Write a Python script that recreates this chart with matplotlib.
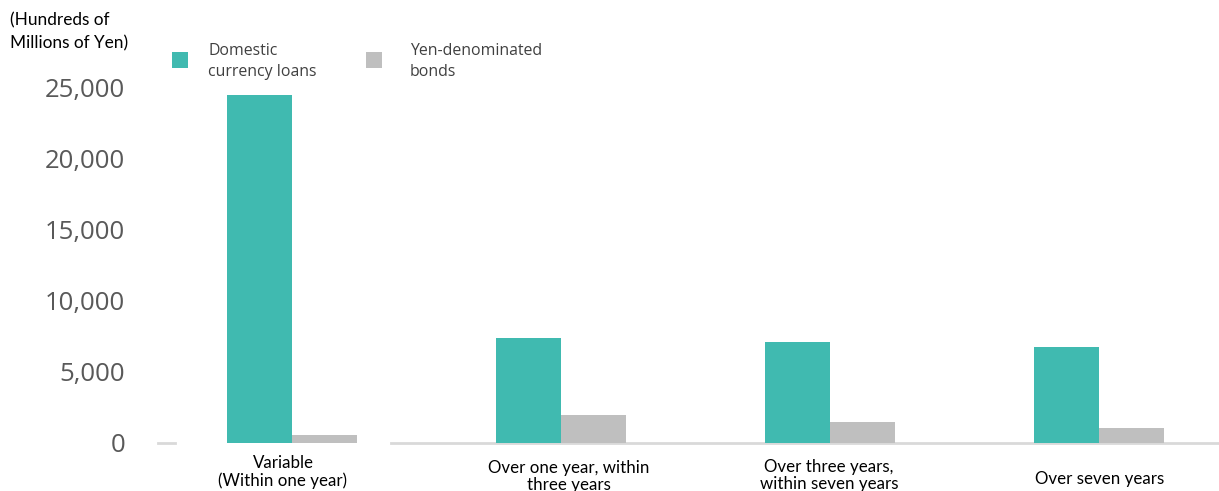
import matplotlib
matplotlib.use("Agg")
import matplotlib.pyplot as plt
from matplotlib.patches import Rectangle
from matplotlib.transforms import ScaledTranslation
import numpy as np

categories = ["Variable\n(Within one year)", "Over one year, within\nthree years",
              "Over three years,\nwithin seven years", "Over seven years"]
series_names = ["Domestic\ncurrency loans", "Yen-denominated\nbonds"]
loans = [24450, 7370, 7090, 6740]
bonds = [580, 1970, 1480, 1060]
yticks = [0, 5000, 10000, 15000, 20000, 25000]
ytick_labels = ["0", "5,000", "10,000", "15,000", "20,000", "25,000"]

teal = "#40BAB0"
grey = "#BFBFBF"
txt = "#404040"

W, H = 1219, 491
fig = plt.figure(figsize=(W / 100, H / 100), dpi=100)
ax = fig.add_axes([160 / W, (H - 443) / H, 1059 / W, 26 * 14.24 / H])

x = np.arange(len(categories))
bw = 0.24
ax.bar(x - bw / 2, loans, width=bw, color=teal, zorder=3)
ax.bar(x + bw / 2, bonds, width=bw, color=grey, zorder=3)

ax.set_xlim((160 - 292) / 269, (1219 - 292) / 269)
ax.set_ylim(0, 26000)
for s in ax.spines.values():
    s.set_visible(False)
ax.set_xticks([])
ax.set_yticks(yticks)
ax.set_yticklabels(ytick_labels, fontsize=18.5, color="#595959",
                   family=["Open Sans", "DejaVu Sans"])
ax.tick_params(axis="y", length=0, pad=25)

# baseline segments (axes fraction)
def px2ax(p):
    return (p - 160) / 1059
ax.plot([px2ax(158), px2ax(175)], [0, 0], color="#D9D9D9", lw=2,
        transform=ax.transAxes, clip_on=False, zorder=2)
ax.plot([px2ax(391), 1.0], [0, 0], color="#D9D9D9", lw=2,
        transform=ax.transAxes, clip_on=False, zorder=2)

# category labels
label_dx = [-9, 8, -1, 1]
label_dy = [455, 460, 459, 471]
for i, c in enumerate(categories):
    off = ScaledTranslation(label_dx[i] / 100, -(label_dy[i] - 443) / 100, fig.dpi_scale_trans)
    ax.text(x[i], 0, c, transform=ax.get_xaxis_transform() + off,
            ha="center", va="top", fontsize=12.2, color="#000000", linespacing=1.1,
            family=["Lato", "DejaVu Sans"])

# unit label
fig.text(10 / W, 1 - 12 / H, "(Hundreds of\nMillions of Yen)", ha="left", va="top",
         fontsize=12.4, color="#000000", linespacing=1.55, family=["Lato", "DejaVu Sans"])

# legend
for name, col, sx, tx in zip(series_names, [teal, grey], [172, 366], [208, 410]):
    fig.patches.append(Rectangle((sx / W, 1 - 68 / H), 16 / W, 16 / H, transform=fig.transFigure,
                                 facecolor=col, edgecolor="none"))
    fig.text(tx / W, 1 - 43 / H, name, ha="left", va="top", fontsize=11.4, color=txt,
             linespacing=1.45, family=["Open Sans", "DejaVu Sans"])

fig.savefig("out.png", dpi=100)
